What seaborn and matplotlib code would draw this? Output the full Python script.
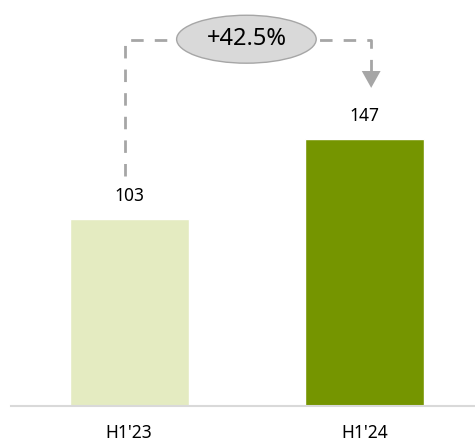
import matplotlib
matplotlib.use("Agg")
import matplotlib.pyplot as plt
from matplotlib.patches import Ellipse, Polygon
import seaborn as sns
import pandas as pd

periods = ["H1'23", "H1'24"]
values = [103, 147]
bar_colors = ["#E4EBC1", "#759500"]
growth_label = "+42.5%"

sns.set_theme(style="white")
plt.rcParams["font.family"] = ["Noto Sans", "DejaVu Sans"]

df = pd.DataFrame({"period": periods, "value": values})

fig = plt.figure(figsize=(4.75, 4.44), dpi=100)
ax = fig.add_axes([11 / 475, 38 / 444, 464 / 475, 406 / 444])

sns.barplot(data=df, x="period", y="value", hue="period", palette=bar_colors,
            width=0.505, legend=False, ax=ax, saturation=1)

ax.set_xlim(-0.502, 1.469)
ax.set_ylim(0, 223.6)

for container in ax.containers:
    ax.bar_label(container, fmt="%d", padding=10, fontsize=12.5, color="#000000")

ax.set_xlabel("")
ax.set_ylabel("")
ax.set_yticks([])
ax.tick_params(axis="x", length=0, pad=13, labelsize=12.5, colors="#000000")
for side in ["top", "right", "left"]:
    ax.spines[side].set_visible(False)
ax.spines["bottom"].set_color("#D9D9D9")
ax.spines["bottom"].set_linewidth(1.5)

# growth connector: dashed elbow from the first bar to the second
line_color = "#A6A6A6"
y_top = 201.5
x_left, x_right = -0.019, 1.028
ax.plot([x_left, x_left, x_right, x_right], [126.6, y_top, y_top, 184.5],
        linestyle=(0, (4.5, 4)), color=line_color, linewidth=2, zorder=2,
        solid_capstyle="butt", dash_capstyle="butt")
ax.add_patch(Polygon([[x_right - 0.04, 184.5], [x_right + 0.04, 184.5],
                      [x_right, 175.2]], closed=True, facecolor=line_color,
                     edgecolor="none", zorder=3))

ax.add_patch(Ellipse((0.498, 202), 0.593, 26.4, facecolor="#D9D9D9",
                     edgecolor="#A6A6A6", linewidth=1, zorder=4))
ax.text(0.498, 202, growth_label, ha="center", va="center", fontsize=17,
        color="#000000", zorder=5)

fig.savefig("out.png", dpi=100)
